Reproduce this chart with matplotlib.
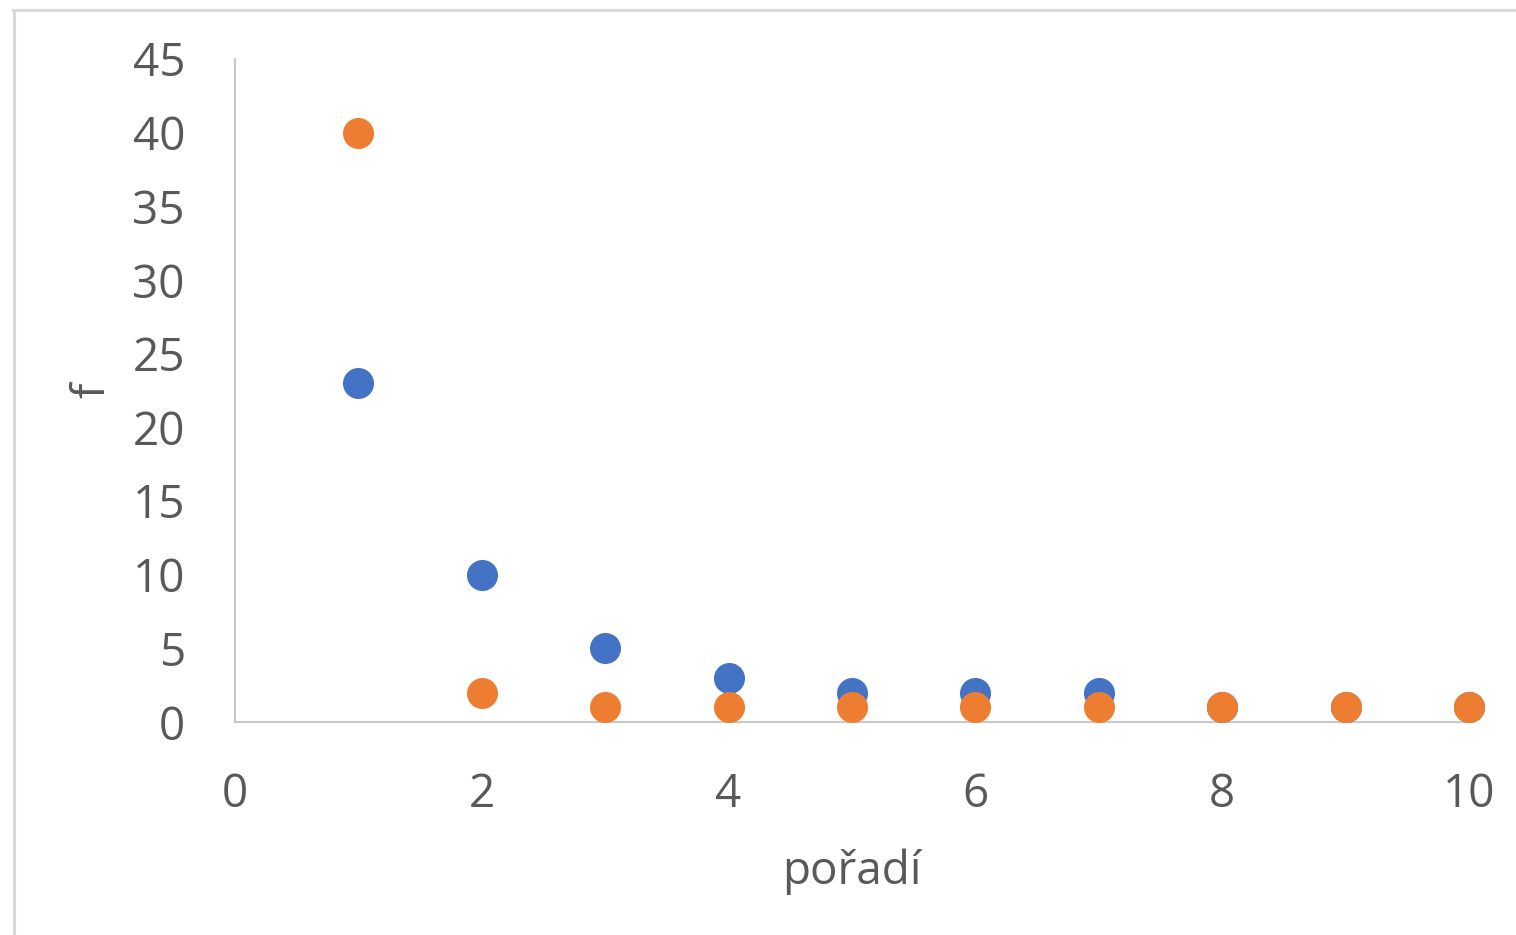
import matplotlib.pyplot as plt
from matplotlib.lines import Line2D

plt.rcParams['font.family'] = ['Open Sans', 'DejaVu Sans']

# data
poradi = [1, 2, 3, 4, 5, 6, 7, 8, 9, 10]
f_blue = [23, 10, 5, 3, 2, 2, 2, 1, 1, 1]
f_orange = [40, 2, 1, 1, 1, 1, 1, 1, 1, 1]
x_ticks = [0, 2, 4, 6, 8, 10]
y_ticks = [0, 5, 10, 15, 20, 25, 30, 35, 40, 45]

text_col = '#595959'
axis_col = '#c8c8c8'

fig = plt.figure(figsize=(15.16, 9.35), dpi=100)
ax = fig.add_axes([235/1516, 1 - 722/935, (1469 - 235)/1516, (722 - 59)/935])

ax.scatter(poradi, f_blue, s=500, color='#4472C4', zorder=3, clip_on=False, linewidths=0)
ax.scatter(poradi, f_orange, s=500, color='#ED7D31', zorder=4, clip_on=False, linewidths=0)

ax.set_xlim(0, 10)
ax.set_ylim(0, 45)
ax.set_xticks(x_ticks)
ax.set_yticks(y_ticks)
ax.tick_params(length=0, labelsize=33, colors=text_col)
ax.tick_params(axis='x', pad=36)
ax.tick_params(axis='y', pad=36)

for s in ['top', 'right']:
    ax.spines[s].set_visible(False)
for s in ['left', 'bottom']:
    ax.spines[s].set_color(axis_col)
    ax.spines[s].set_linewidth(1.5)

ax.set_xlabel('pořadí', fontsize=33, color=text_col, labelpad=22)
ax.set_ylabel('f', fontsize=33, color=text_col, labelpad=12)

# chart area border (right and bottom edge cut off in the picture)
border = '#d9d9d9'
fig.add_artist(Line2D([13/1516, 1], [1 - 10/935, 1 - 10/935], color=border, lw=2.2))
fig.add_artist(Line2D([14/1516, 14/1516], [0, 1 - 10/935], color=border, lw=2.2))

fig.savefig('out.png', dpi=100, facecolor='white')
